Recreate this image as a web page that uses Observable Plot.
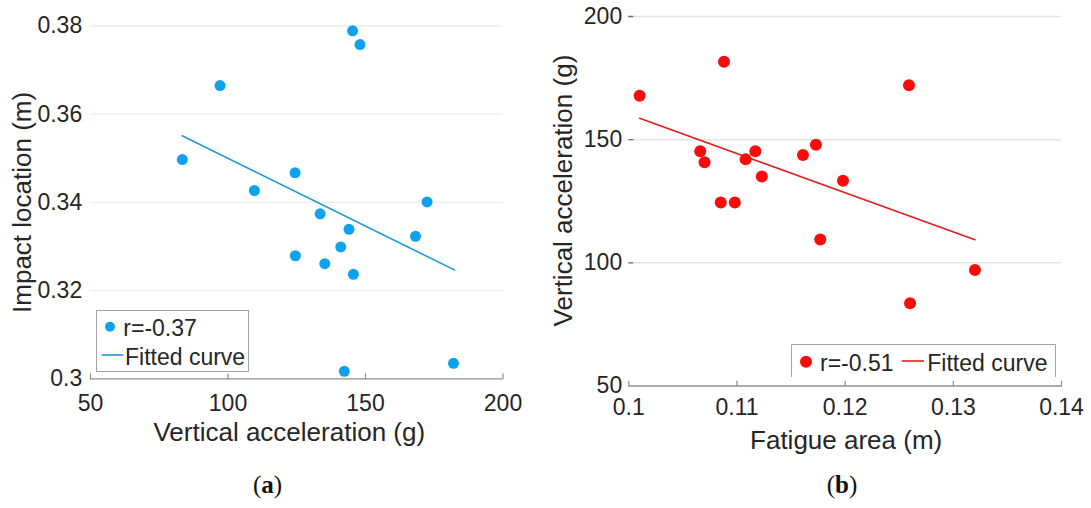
<!DOCTYPE html>
<html>
<head>
<meta charset="utf-8">
<script src="https://cdn.jsdelivr.net/npm/d3@7"></script>
<script src="https://cdn.jsdelivr.net/npm/@observablehq/plot@0.6"></script>
<style>
  html, body { margin: 0; padding: 0; background: #fff; }
  #figure { position: relative; width: 1091px; height: 508px; overflow: hidden; background: #fff; }
  #figure > svg { position: absolute; top: 0; }
</style>
</head>
<body>
<div id="figure"></div>
<script>
// Panel (a): impact location against vertical acceleration
const accelA  = [145.3, 148.0, 97.1, 83.4, 124.4, 109.6, 172.4, 133.5, 144.0, 168.2, 141.0, 124.5, 135.2, 145.6, 142.3, 182.0];
const impactA = [0.3789, 0.3758, 0.3665, 0.3497, 0.3467, 0.3427, 0.3401, 0.3374, 0.3339, 0.3323, 0.3299, 0.3279, 0.3261, 0.3237, 0.3017, 0.3035];
const fitAccelA  = [83.3, 182.3];
const fitImpactA = [0.3551, 0.3247];
const xTicksA = [50, 100, 150, 200];
const xTickLabelsA = ["50", "100", "150", "200"];
const yTicksA = [0.3, 0.32, 0.34, 0.36, 0.38];
const yTickLabelsA = ["0.3", "0.32", "0.34", "0.36", "0.38"];
const xTitleA = "Vertical acceleration (g)";
const yTitleA = "Impact location (m)";
const legendA = ["r=-0.37", "Fitted curve"];
const captionA = "a";

// Panel (b): vertical acceleration against fatigue area
const fatigueB = [0.1010, 0.1088, 0.1066, 0.1070, 0.1108, 0.1117, 0.1123, 0.1085, 0.1098, 0.1161, 0.1173, 0.1177, 0.1198, 0.1259, 0.1320, 0.1260];
const accelB   = [167.8, 181.6, 145.3, 140.8, 142.0, 145.3, 135.0, 124.5, 124.5, 143.8, 147.9, 109.5, 133.3, 172.1, 97.1, 83.6];
const fitFatigueB = [0.1010, 0.1320];
const fitAccelB   = [158.7, 109.4];
const xTicksB = [0.1, 0.11, 0.12, 0.13, 0.14];
const xTickLabelsB = ["0.1", "0.11", "0.12", "0.13", "0.14"];
const yTicksB = [50, 100, 150, 200];
const yTickLabelsB = ["50", "100", "150", "200"];
const xTitleB = "Fatigue area (m)";
const yTitleB = "Vertical acceleration (g)";
const legendB = ["r=-0.51", "Fitted curve"];
const captionB = "b";

const sans = "'Liberation Sans', Arial, Helvetica, sans-serif";
const serif = "'Liberation Serif', 'Times New Roman', serif";
const blue = "#0ea2ee", blueLine = "#1c9ad6";
const red = "#ff0a0a", redLine = "#e41c1c";
const axisGray = "#8f8f8f";

const H = 508;
const fig = document.getElementById("figure");
const baseStyle = {fontFamily: sans, fontSize: "23px", color: "#262626", background: "transparent", overflow: "visible"};
const labelOf = (ticks, labels) => d => labels[ticks.indexOf(d)];
const first = a => a[0];
const last = a => a[a.length - 1];

// short inward tick marks: upward on the x axis, rightward on the y axis
const xTickMarks = (ticks, y0, stroke) =>
  Plot.vector(ticks, {x: d => d, y: y0, length: 5, rotate: 0, anchor: "start", r: 0, stroke, strokeWidth: 1.2});
const yTickMarks = (ticks, x0, stroke) =>
  Plot.vector(ticks, {x: x0, y: d => d, length: 4, rotate: 90, anchor: "start", r: 0, stroke, strokeWidth: 1.3});

// ---- panel (a)
const mA = {left: 90, right: 42.5, top: 25.5, bottom: 129.7};
const WA = 545;
const ptsA = accelA.map((a, i) => ({accel: a, impact: impactA[i]}));
const fitA = fitAccelA.map((a, i) => ({accel: a, impact: fitImpactA[i]}));

const plotA = Plot.plot({
  width: WA, height: H,
  marginLeft: mA.left, marginRight: mA.right, marginTop: mA.top, marginBottom: mA.bottom,
  style: baseStyle,
  x: {domain: [first(xTicksA), last(xTicksA)]},
  y: {domain: [first(yTicksA), last(yTicksA)]},
  marks: [
    Plot.ruleY(yTicksA.slice(1), {x1: first(xTicksA), x2: last(xTicksA), stroke: "#ededed", strokeWidth: 1.3}),
    Plot.ruleY([first(yTicksA)], {x1: first(xTicksA), x2: last(xTicksA), stroke: axisGray, strokeWidth: 1.3}),
    xTickMarks(xTicksA, first(yTicksA), axisGray),
    Plot.axisX(xTicksA, {tickFormat: labelOf(xTicksA, xTickLabelsA), tickSize: 0, tickPadding: 16, label: null}),
    Plot.axisY(yTicksA, {tickFormat: labelOf(yTicksA, yTickLabelsA), tickSize: 0, tickPadding: 8.3, label: null}),
    Plot.line(fitA, {x: "accel", y: "impact", stroke: blueLine, strokeWidth: 1.6}),
    Plot.dot(ptsA, {x: "accel", y: "impact", r: 5.5, fill: blue}),
    Plot.text([yTitleA], {text: d => d, frameAnchor: "left", textAnchor: "middle", lineAnchor: "middle", dx: -68, rotate: -90, fontSize: 26}),
    Plot.text([xTitleA], {text: d => d, frameAnchor: "bottom", textAnchor: "middle", lineAnchor: "middle", dx: -7.5, dy: 53.4, fontSize: 26})
  ]
});
plotA.style.left = "0px";
fig.appendChild(plotA);

// ---- panel (b)
const mB = {left: 83.3, right: 30, top: 16, bottom: 122.5};
const WB = 546;
const ptsB = fatigueB.map((f, i) => ({fatigue: f, accel: accelB[i]}));
const fitB = fitFatigueB.map((f, i) => ({fatigue: f, accel: fitAccelB[i]}));

const plotB = Plot.plot({
  width: WB, height: H,
  marginLeft: mB.left, marginRight: mB.right, marginTop: mB.top, marginBottom: mB.bottom,
  style: baseStyle,
  x: {domain: [first(xTicksB), last(xTicksB)]},
  y: {domain: [first(yTicksB), last(yTicksB)]},
  marks: [
    Plot.ruleY(yTicksB.slice(1), {x1: first(xTicksB), x2: last(xTicksB), stroke: "#e4e4e4", strokeWidth: 1.5}),
    yTickMarks(yTicksB.slice(1), first(xTicksB), "#6e6e6e"),
    Plot.ruleY([first(yTicksB)], {x1: first(xTicksB), x2: last(xTicksB), stroke: axisGray, strokeWidth: 1.3}),
    xTickMarks(xTicksB, first(yTicksB), axisGray),
    Plot.axisX(xTicksB, {tickFormat: labelOf(xTicksB, xTickLabelsB), tickSize: 0, tickPadding: 13, label: null}),
    Plot.axisY(yTicksB, {tickFormat: labelOf(yTicksB, yTickLabelsB), tickSize: 0, tickPadding: 6.6, label: null}),
    Plot.line(fitB, {x: "fatigue", y: "accel", stroke: redLine, strokeWidth: 1.6}),
    Plot.dot(ptsB, {x: "fatigue", y: "accel", r: 6, fill: red}),
    Plot.text([yTitleB], {text: d => d, frameAnchor: "left", textAnchor: "middle", lineAnchor: "middle", dx: -65.3, dy: -10.7, rotate: -90, fontSize: 26}),
    Plot.text([xTitleB], {text: d => d, frameAnchor: "bottom", textAnchor: "middle", lineAnchor: "middle", dx: 1, dy: 54.4, fontSize: 26})
  ]
});
plotB.style.left = WA + "px";
fig.appendChild(plotB);

// ---- legends and panel captions
const ov = d3.select(fig).append("svg")
  .attr("width", 1091).attr("height", H)
  .style("left", "0px").style("pointer-events", "none")
  .attr("font-family", sans).attr("font-size", 23).attr("fill", "#262626");

// legend of panel (a): stacked entries in a closed box
const la = ov.append("g");
la.append("rect").attr("x", 96.5).attr("y", 310.5).attr("width", 152).attr("height", 61)
  .attr("fill", "#fff").attr("stroke", "#a3a3a3").attr("stroke-width", 1);
la.append("circle").attr("cx", 110).attr("cy", 326.7).attr("r", 5).attr("fill", blue);
la.append("text").attr("x", 123.3).attr("y", 335.5).text(legendA[0]);
la.append("line").attr("x1", 101.7).attr("x2", 123.3).attr("y1", 355).attr("y2", 355)
  .attr("stroke", blueLine).attr("stroke-width", 1.6);
la.append("text").attr("x", 125).attr("y", 365).text(legendA[1]);

// legend of panel (b): one row, box open at the bottom
const lb = ov.append("g");
lb.append("rect").attr("x", 791).attr("y", 344).attr("width", 264).attr("height", 33).attr("fill", "#fff");
lb.append("path").attr("d", "M791.5,377V344.5H1055.5V377").attr("fill", "none")
  .attr("stroke", "#a3a3a3").attr("stroke-width", 1);
lb.append("circle").attr("cx", 806).attr("cy", 361.7).attr("r", 6).attr("fill", red);
lb.append("text").attr("x", 820).attr("y", 370.5).text(legendB[0]);
lb.append("line").attr("x1", 901.7).attr("x2", 924).attr("y1", 361).attr("y2", 361)
  .attr("stroke", redLine).attr("stroke-width", 1.6);
lb.append("text").attr("x", 927.3).attr("y", 370.5).text(legendB[1]);

// panel captions (a) and (b)
[[captionA, 267.5], [captionB, 842]].forEach(([c, x]) => {
  const t = ov.append("text").attr("x", x).attr("y", 493).attr("text-anchor", "middle")
    .attr("font-family", serif).attr("font-size", 25).attr("fill", "#111");
  t.append("tspan").text("(");
  t.append("tspan").attr("font-weight", "bold").text(c);
  t.append("tspan").text(")");
});
</script>
</body>
</html>
